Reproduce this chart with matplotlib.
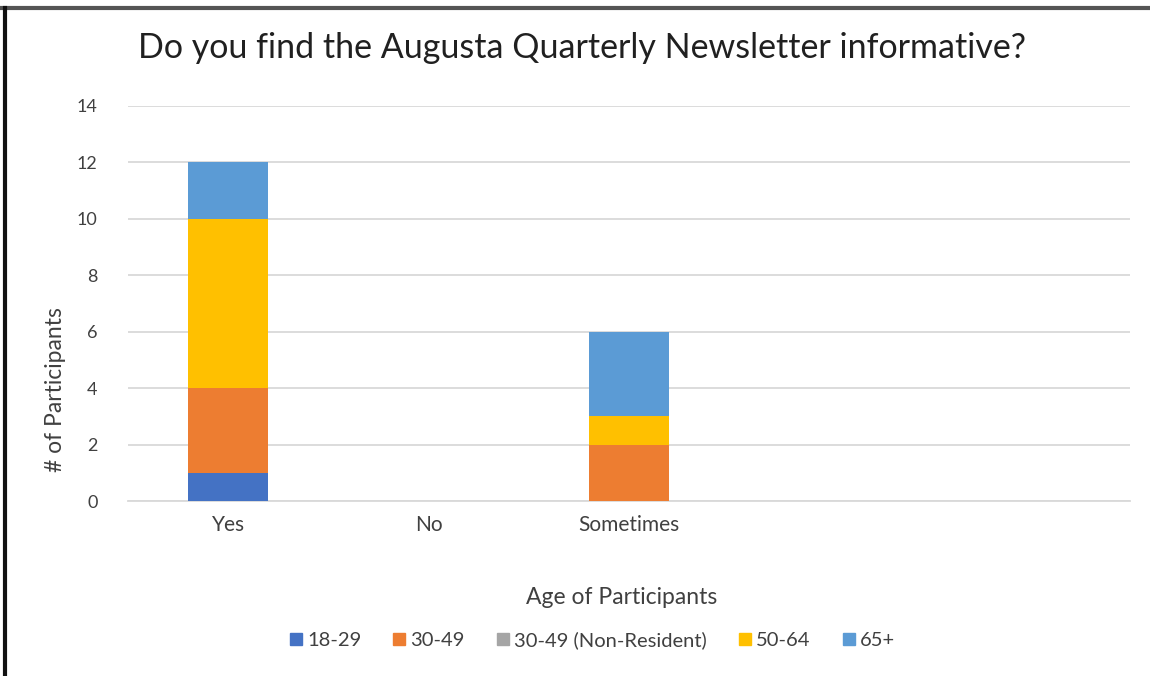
import matplotlib.pyplot as plt
from matplotlib.lines import Line2D

# Encuesta: ¿el boletín trimestral es informativo? (por grupo de edad)
categorias = ["Yes", "No", "Sometimes", "", ""]
grupos = ["18-29", "30-49", "30-49 (Non-Resident)", "50-64", "65+"]
valores = {
    "18-29": [1, 0, 0, 0, 0],
    "30-49": [3, 0, 2, 0, 0],
    "30-49 (Non-Resident)": [0, 0, 0, 0, 0],
    "50-64": [6, 0, 1, 0, 0],
    "65+": [2, 0, 3, 0, 0],
}
colores = ["#4472C4", "#ED7D31", "#A5A5A5", "#FFC000", "#5B9BD5"]

plt.rcParams['font.family'] = ['Lato', 'DejaVu Sans']

fig = plt.figure(figsize=(11.5, 6.76), dpi=100)
ax = fig.add_axes([128/1150, 1-501/676, (1130-128)/1150, (501-106)/676])

x = list(range(len(categorias)))
base = [0]*len(categorias)
for g, c in zip(grupos, colores):
    ax.bar(x, valores[g], bottom=base, width=0.4, color=c, label=g, zorder=3)
    base = [b+v for b, v in zip(base, valores[g])]

ax.set_xlim(-0.5, len(categorias)-0.5)
ax.set_ylim(0, 14)
ax.set_yticks(range(0, 15, 2))
ax.set_xticks(x)
ax.set_xticklabels(categorias)
ax.yaxis.grid(True, color="#d9d9d9", linewidth=1.3, zorder=0)
for s in ax.spines.values():
    s.set_visible(False)
ax.spines['bottom'].set_visible(True)
ax.spines['bottom'].set_color("#d9d9d9")
ax.spines['bottom'].set_linewidth(1.3)
ax.tick_params(axis='x', length=0, labelsize=15, colors="#404040", pad=10)
ax.tick_params(axis='y', length=0, labelsize=13, colors="#404040", pad=22)

fig.text(55/1150, 1-390/676, "# of Participants", rotation=90, ha='center', va='center',
         fontsize=16.5, color="#404040")
fig.text(582/1150, 1-48/676, "Do you find the Augusta Quarterly Newsletter informative?",
         ha='center', va='center', fontsize=24.5, color="#202020")
fig.text(622/1150, 1-598/676, "Age of Participants", ha='center', va='center',
         fontsize=16.5, color="#404040")

handles = [Line2D([], [], marker='s', linestyle='', markersize=8, color=c) for c in colores]
fig.legend(handles, grupos, loc='center', bbox_to_anchor=(588/1150, 1-640/676),
           ncol=5, frameon=False, fontsize=14.5, handletextpad=-0.2, columnspacing=1.15,
           handlelength=1.5, labelcolor="#404040")

# marco parcial (arriba e izquierda)
fig.add_artist(Line2D([0, 1], [1-8/676, 1-8/676], color="#555555", linewidth=3))
fig.add_artist(Line2D([5/1150, 5/1150], [0, 1-8/676], color="#111111", linewidth=3))

fig.savefig("out.png")
